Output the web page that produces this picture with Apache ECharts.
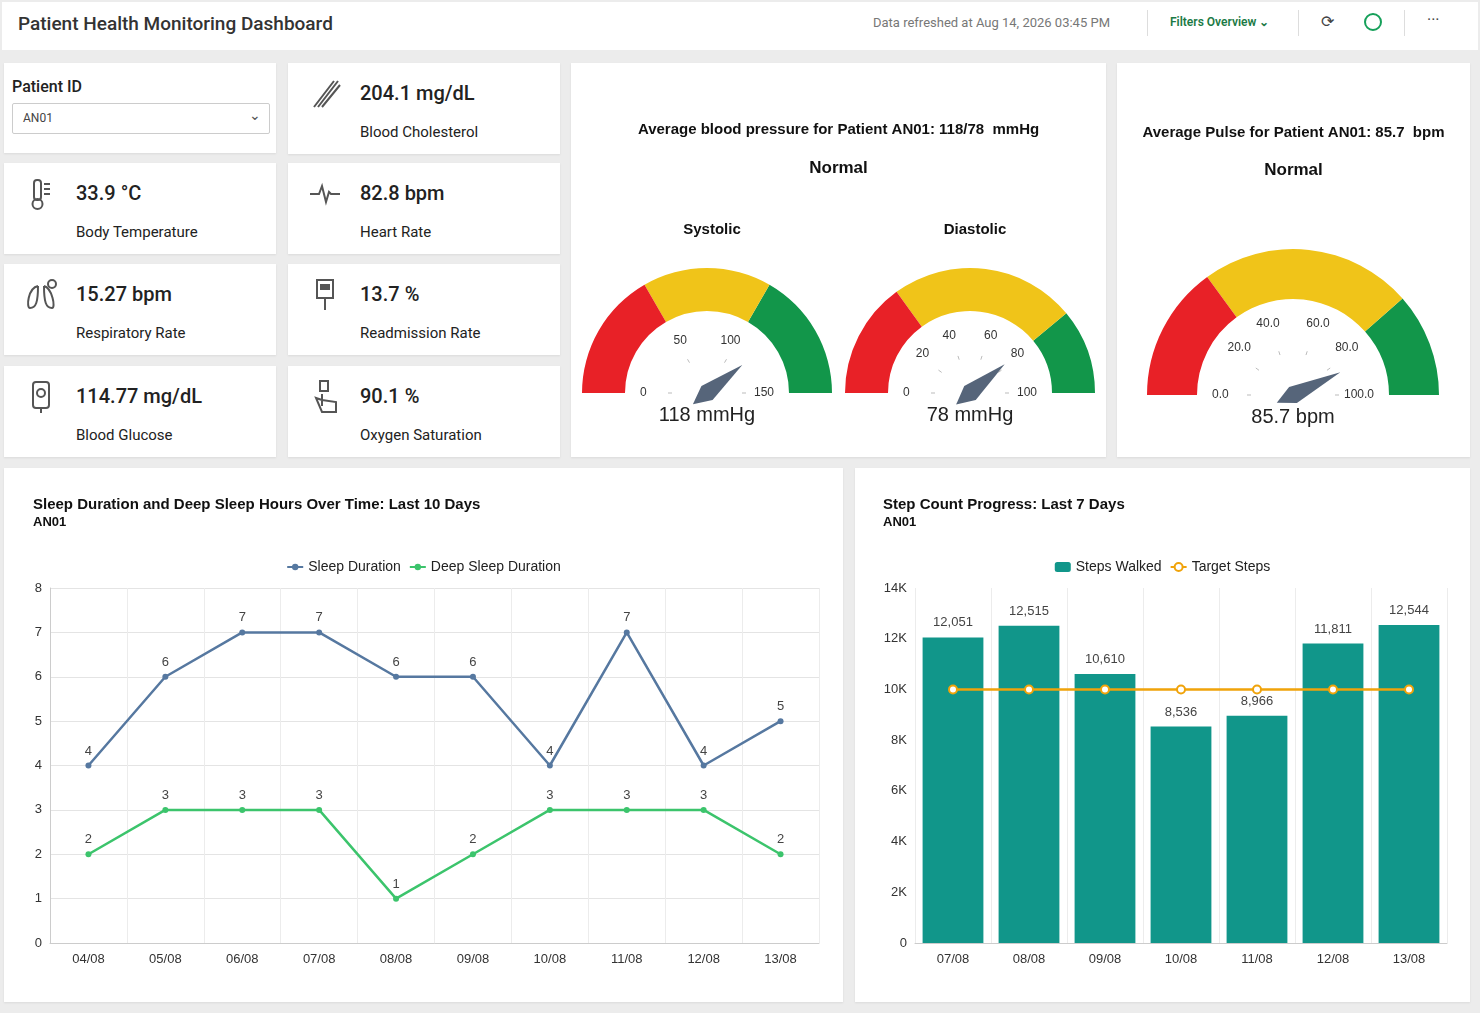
<!DOCTYPE html>
<html>
<head>
<meta charset="utf-8">
<script src="https://cdn.jsdelivr.net/npm/echarts@6/dist/echarts.min.js"></script>
<style>
body{margin:0;width:1480px;height:1013px;background:#ececec;font-family:Roboto,"Noto Sans",sans-serif;color:#222;overflow:hidden;position:relative}
.card{position:absolute;background:#fff;box-shadow:0 1px 2px rgba(0,0,0,.08)}
.hdr{position:absolute;left:2px;top:2px;width:1476px;height:48px;background:#fff}
.kpi .ic{position:absolute;left:20px;top:14px;width:34px;height:34px}
.kpi .v{position:absolute;left:72px;top:18px;font-size:20px;font-weight:500}
.kpi .l{position:absolute;left:72px;top:60px;font-size:15px;color:#222}
</style>
</head>
<body>
<div class="hdr">
  <div style="position:absolute;left:16px;top:10px;font-size:19px;font-weight:500;color:#333">Patient Health Monitoring Dashboard</div>
  <div style="position:absolute;left:871px;top:13px;font-size:13px;color:#777">Data refreshed at Aug 14, 2026 03:45 PM</div>
  <div style="position:absolute;left:1145px;top:8px;width:1px;height:26px;background:#ddd"></div>
  <div style="position:absolute;left:1168px;top:13px;font-size:12px;font-weight:600;color:#1b7a45">Filters Overview &#8964;</div>
  <div style="position:absolute;left:1296px;top:8px;width:1px;height:26px;background:#ddd"></div>
  <div style="position:absolute;left:1319px;top:10px;font-size:16px;color:#444">&#10227;</div>
  <div style="position:absolute;left:1362px;top:11px;width:14px;height:14px;border:2px solid #16a05a;border-radius:50%"></div>
  <div style="position:absolute;left:1402px;top:8px;width:1px;height:26px;background:#ddd"></div>
  <div style="position:absolute;left:1425px;top:8px;font-size:16px;color:#444">&middot;&middot;&middot;</div>
</div>

<div class="card" style="left:4px;top:63px;width:272px;height:90px">
  <div style="position:absolute;left:8px;top:14px;font-size:16px;font-weight:500">Patient ID</div>
  <div style="position:absolute;left:8px;top:40px;width:256px;height:29px;border:1px solid #ccc;border-radius:2px">
    <span style="position:absolute;left:10px;top:7px;font-size:12px;color:#444">AN01</span>
    <span style="position:absolute;right:8px;top:3px;font-size:14px;color:#555">&#8964;</span>
  </div>
</div>
<div id="kpis"></div>

<div class="card" id="bp" style="left:571px;top:63px;width:535px;height:394px"></div>
<div class="card" id="pulse" style="left:1117px;top:63px;width:353px;height:394px"></div>
<div class="card" id="sleep" style="left:4px;top:468px;width:839px;height:534px"></div>
<div class="card" id="steps" style="left:855px;top:468px;width:615px;height:534px"></div>

<script>
// KPI 卡片
var kpiValues = ['204.1 mg/dL','33.9 °C','82.8 bpm','15.27 bpm','13.7 %','114.77 mg/dL','90.1 %'];
var kpiLabels = ['Blood Cholesterol','Body Temperature','Heart Rate','Respiratory Rate','Readmission Rate','Blood Glucose','Oxygen Saturation'];
// 折线图数据
var sleepDates = ['04/08','05/08','06/08','07/08','08/08','09/08','10/08','11/08','12/08','13/08'];
var sleepDuration = [4,6,7,7,6,6,4,7,4,5];
var deepSleep = [2,3,3,3,1,2,3,3,3,2];
// 柱状图数据
var stepDates = ['07/08','08/08','09/08','10/08','11/08','12/08','13/08'];
var stepsWalked = [12051,12515,10610,8536,8966,11811,12544];
var targetSteps = [10000,10000,10000,10000,10000,10000,10000];
// 仪表盘数据
var systolic = 118, diastolic = 78, pulse = 85.7;

var icons = [
 '<path d="M6 30 L26 4 M10 30 L30 4 M14 30 L32 8" stroke="#555" stroke-width="2" fill="none"/>',
 '<rect x="10" y="3" width="7" height="20" rx="3" stroke="#555" stroke-width="2" fill="none"/><circle cx="13.5" cy="27" r="5" stroke="#555" stroke-width="2" fill="none"/><path d="M20 7h6M20 12h6M20 17h6" stroke="#555" stroke-width="2"/>',
 '<path d="M2 17h9l3-8 4 16 3-10 2 2h9" stroke="#555" stroke-width="2" fill="none"/>',
 '<path d="M14 8 C4 10 2 30 6 30 C12 30 14 24 14 8 M20 8 C28 10 32 30 28 30 C22 30 20 24 20 8" stroke="#555" stroke-width="2" fill="none"/><circle cx="28" cy="6" r="4" stroke="#555" stroke-width="2" fill="none"/>',
 '<rect x="9" y="2" width="16" height="18" stroke="#555" stroke-width="2" fill="none"/><rect x="12" y="6" width="10" height="6" fill="#555"/><path d="M17 20v12" stroke="#555" stroke-width="2"/>',
 '<rect x="9" y="2" width="16" height="26" rx="3" stroke="#555" stroke-width="2" fill="none"/><circle cx="17" cy="13" r="4" stroke="#555" stroke-width="2" fill="none"/><path d="M17 28v5" stroke="#555" stroke-width="2"/>',
 '<rect x="12" y="1" width="8" height="10" stroke="#555" stroke-width="2" fill="none"/><path d="M14 14v12 M14 20 L8 18 L14 32 H28 V22 L14 20" stroke="#555" stroke-width="2" fill="none"/>'
];
var pos = [[288,63],[4,163],[288,163],[4,264],[288,264],[4,366],[288,366]];
var html = '';
for (var i = 0; i < kpiValues.length; i++) {
  html += '<div class="card kpi" style="left:'+pos[i][0]+'px;top:'+pos[i][1]+'px;width:272px;height:91px">'
    + '<svg class="ic" viewBox="0 0 34 34">'+icons[i]+'</svg>'
    + '<div class="v">'+kpiValues[i]+'</div><div class="l">'+kpiLabels[i]+'</div></div>';
}
document.getElementById('kpis').innerHTML = html;

function gauge(center, radius, width, min, max, split, value, bands, unit, digits) {
  return {
    type: 'gauge', center: center, radius: radius, startAngle: 180, endAngle: 0,
    min: min, max: max, splitNumber: split,
    axisLine: {lineStyle: {width: width, color: bands}},
    axisTick: {show: false},
    splitLine: {distance: width, length: 4, lineStyle: {color: '#bbb', width: 1}},
    axisLabel: {distance: 11, color: '#333', fontSize: 12,
      formatter: function (v) { return digits ? v.toFixed(digits) : v; }},
    pointer: {length: '36%', width: 9, offsetCenter: [0, 0], itemStyle: {color: '#56657a'}},
    anchor: {show: true, size: 12, itemStyle: {color: '#56657a'}},
    title: {show: false},
    detail: {offsetCenter: [0, 22], fontSize: 20, color: '#222', fontWeight: 'normal',
      formatter: function (v) { return (digits ? v.toFixed(digits) : v) + ' ' + unit; }},
    data: [{value: value}]
  };
}
var red = '#e82127', yel = '#f0c419', grn = '#12964a';

var bpChart = echarts.init(document.getElementById('bp'));
bpChart.setOption({
  title: [
    {text: 'Average blood pressure for Patient AN01: 118/78  mmHg', left: 'center', top: 54, textStyle: {fontSize: 15, fontWeight: 600, color: '#111'}},
    {text: 'Normal', left: 'center', top: 92, textStyle: {fontSize: 17, fontWeight: 600, color: '#111'}},
    {text: 'Systolic', left: 136, textAlign: 'center', top: 154, textStyle: {fontSize: 15, fontWeight: 600, color: '#111'}},
    {text: 'Diastolic', left: 399, textAlign: 'center', top: 154, textStyle: {fontSize: 15, fontWeight: 600, color: '#111'}}
  ],
  series: [
    gauge([136, 330], 125, 43, 0, 150, 3, systolic, [[1/3, red], [2/3, yel], [1, grn]], 'mmHg', 0),
    gauge([399, 330], 125, 43, 0, 100, 5, diastolic, [[0.3, red], [0.78, yel], [1, grn]], 'mmHg', 0)
  ]
});

var pulseChart = echarts.init(document.getElementById('pulse'));
pulseChart.setOption({
  title: [
    {text: 'Average Pulse for Patient AN01: 85.7  bpm', left: 'center', top: 57, textStyle: {fontSize: 15, fontWeight: 600, color: '#111'}},
    {text: 'Normal', left: 'center', top: 94, textStyle: {fontSize: 17, fontWeight: 600, color: '#111'}}
  ],
  series: [gauge([176, 332], 146, 50, 0, 100, 5, pulse, [[0.3, red], [0.77, yel], [1, grn]], 'bpm', 1)]
});

var gridLine = {lineStyle: {color: '#e4e4e4'}};
var sleepChart = echarts.init(document.getElementById('sleep'));
sleepChart.setOption({
  title: {text: 'Sleep Duration and Deep Sleep Hours Over Time: Last 10 Days', subtext: 'AN01', left: 24, top: 24, itemGap: 4,
    textStyle: {fontSize: 15, fontWeight: 600, color: '#111'}, subtextStyle: {fontSize: 13, fontWeight: 600, color: '#111'}},
  legend: {top: 87, left: 'center', itemWidth: 16, itemHeight: 8, textStyle: {fontSize: 14, fontWeight: 500, color: '#222'}, data: ['Sleep Duration', 'Deep Sleep Duration']},
  grid: {left: 46, right: 24, top: 120, bottom: 59},
  xAxis: {type: 'category', data: sleepDates, boundaryGap: true,
    axisLine: {lineStyle: {color: '#ccc'}}, axisTick: {show: false},
    axisLabel: {color: '#333', fontSize: 13, margin: 10}, splitLine: {show: true, lineStyle: {color: '#ececec'}}},
  yAxis: {type: 'value', min: 0, max: 8, interval: 1, axisLine: {show: true, lineStyle: {color: '#ccc'}},
    axisLabel: {color: '#333', fontSize: 13}, splitLine: gridLine},
  series: [
    {name: 'Sleep Duration', type: 'line', data: sleepDuration, color: '#5678a0', symbol: 'circle', symbolSize: 6,
      lineStyle: {width: 2.5}, label: {show: true, color: '#444', fontSize: 13, position: 'top'}},
    {name: 'Deep Sleep Duration', type: 'line', data: deepSleep, color: '#3cc46c', symbol: 'circle', symbolSize: 6,
      lineStyle: {width: 2.5}, label: {show: true, color: '#444', fontSize: 13, position: 'top'}}
  ]
});

var stepsChart = echarts.init(document.getElementById('steps'));
stepsChart.setOption({
  title: {text: 'Step Count Progress: Last 7 Days', subtext: 'AN01', left: 23, top: 24, itemGap: 4,
    textStyle: {fontSize: 15, fontWeight: 600, color: '#111'}, subtextStyle: {fontSize: 13, fontWeight: 600, color: '#111'}},
  legend: {top: 87, left: 'center', itemWidth: 16, itemHeight: 10, textStyle: {fontSize: 14, fontWeight: 500, color: '#222'}},
  grid: {left: 60, right: 23, top: 120, bottom: 59},
  xAxis: {type: 'category', data: stepDates, axisLine: {lineStyle: {color: '#ccc'}}, axisTick: {show: false},
    axisLabel: {color: '#333', fontSize: 13, margin: 10}, splitLine: {show: true, lineStyle: {color: '#ececec'}}},
  yAxis: {type: 'value', min: 0, max: 14000, interval: 2000, splitLine: {show: false},
    axisLabel: {color: '#333', fontSize: 13, formatter: function (v) { return v ? v / 1000 + 'K' : '0'; }}},
  series: [
    {name: 'Steps Walked', type: 'bar', data: stepsWalked, color: '#11968a', barWidth: '80%',
      label: {show: true, position: 'top', color: '#444', fontSize: 13, distance: 8,
        formatter: function (p) { return p.value.toLocaleString('en-US'); }}},
    {name: 'Target Steps', type: 'line', data: targetSteps, color: '#f0a30a', symbol: 'circle', symbolSize: 8,
      itemStyle: {color: '#fff', borderColor: '#f0a30a', borderWidth: 2}, lineStyle: {color: '#f0a30a', width: 2.5}}
  ]
});
</script>
</body>
</html>
